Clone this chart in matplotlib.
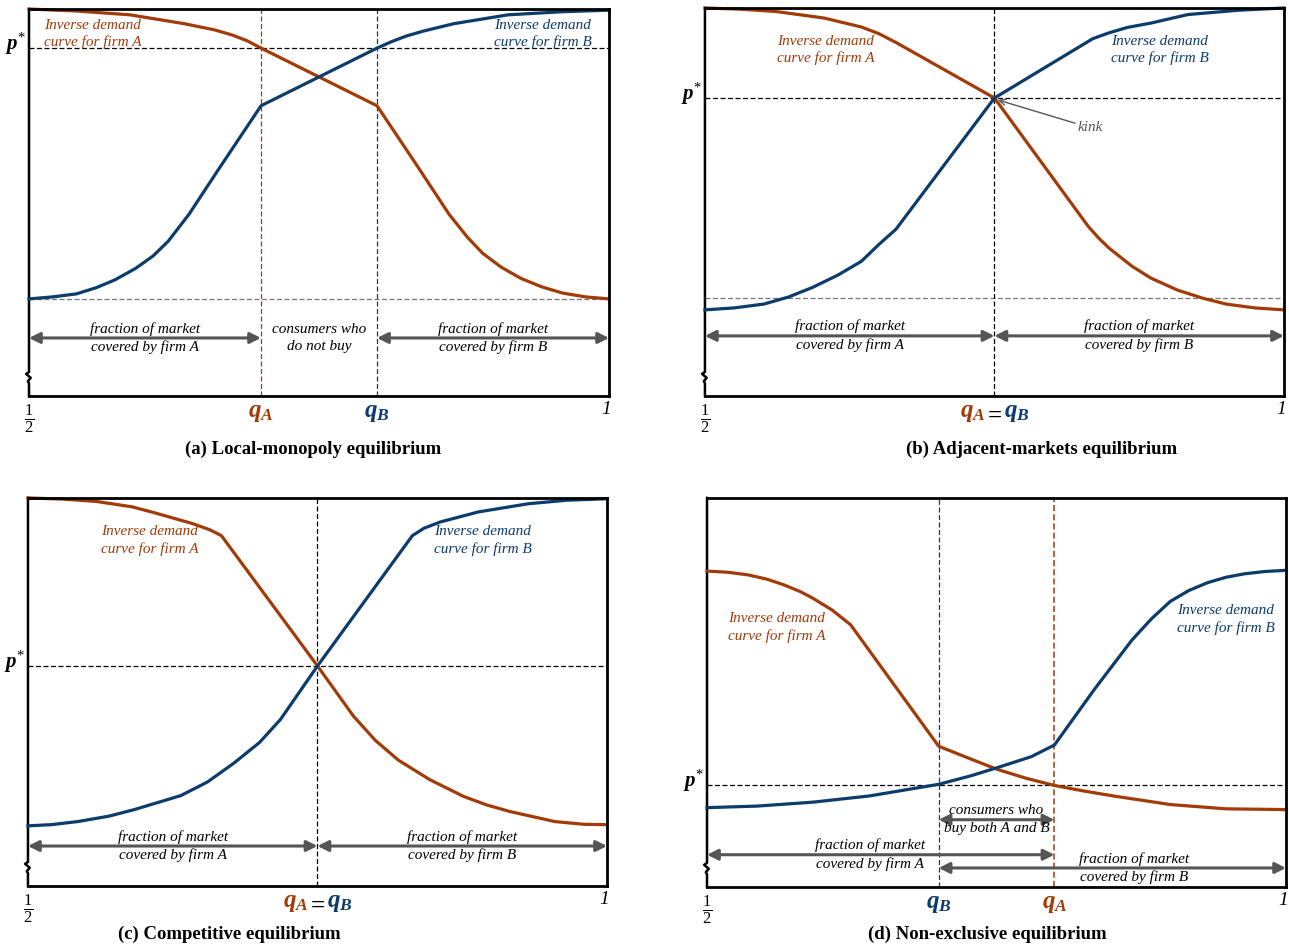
import matplotlib
matplotlib.use("Agg")
import matplotlib.pyplot as plt

ORANGE = '#a23b08'
BLUE = '#0c3c6c'
GREY = '#555555'
SERIF = 'Liberation Serif'

plt.rcParams['font.family'] = SERIF
plt.rcParams['mathtext.fontset'] = 'custom'
plt.rcParams['mathtext.rm'] = SERIF
plt.rcParams['mathtext.it'] = SERIF + ':italic'
plt.rcParams['mathtext.bf'] = SERIF + ':italic:bold'

# (a) local monopoly
a_x_A = [0.5, 0.540, 0.587, 0.634, 0.660, 0.675, 0.688, 0.700, 0.800, 0.835, 0.862, 0.878, 0.891,
         0.907, 0.924, 0.942, 0.960, 0.980, 1.0]
a_p_A = [1.0, 0.995, 0.985, 0.962, 0.946, 0.933, 0.918, 0.899, 0.750, 0.593, 0.470, 0.410, 0.369,
         0.333, 0.304, 0.282, 0.266, 0.256, 0.251]
a_x_B = [0.5, 0.520, 0.541, 0.558, 0.574, 0.592, 0.607, 0.620, 0.638, 0.663, 0.700, 0.800, 0.812,
         0.825, 0.840, 0.866, 0.913, 0.960, 1.0]
a_p_B = [0.251, 0.256, 0.264, 0.280, 0.300, 0.330, 0.362, 0.400, 0.470, 0.584, 0.750, 0.899, 0.915,
         0.930, 0.943, 0.962, 0.985, 0.993, 0.997]
a_pstar = 0.899
a_plow = 0.251
a_qA, a_qB = 0.70, 0.80

# (b) adjacent markets
b_x_A = [0.5, 0.530, 0.561, 0.603, 0.635, 0.650, 0.665, 0.75, 0.831, 0.840, 0.849, 0.869, 0.885,
         0.908, 0.930, 0.950, 0.975, 1.0]
b_p_A = [1.0, 0.997, 0.991, 0.974, 0.951, 0.934, 0.911, 0.768, 0.437, 0.407, 0.381, 0.334, 0.304,
         0.273, 0.252, 0.237, 0.227, 0.222]
b_x_B = [0.5, 0.525, 0.551, 0.572, 0.593, 0.615, 0.635, 0.650, 0.665, 0.75, 0.835, 0.849, 0.865,
         0.885, 0.917, 0.960, 1.0]
b_p_B = [0.222, 0.227, 0.237, 0.255, 0.280, 0.312, 0.347, 0.390, 0.430, 0.768, 0.921, 0.936, 0.950,
         0.961, 0.983, 0.994, 1.0]
b_pstar = 0.768
b_plow = 0.252
b_q = 0.75

# (c) competitive
c_x_A = [0.5, 0.530, 0.559, 0.590, 0.609, 0.642, 0.657, 0.667, 0.75, 0.781, 0.800, 0.820, 0.847,
         0.876, 0.896, 0.916, 0.955, 0.980, 1.0]
c_p_A = [1.0, 0.997, 0.991, 0.977, 0.962, 0.934, 0.918, 0.903, 0.567, 0.438, 0.375, 0.324, 0.274,
         0.231, 0.209, 0.192, 0.166, 0.159, 0.158]
c_x_B = [0.5, 0.520, 0.543, 0.570, 0.592, 0.632, 0.655, 0.678, 0.700, 0.718, 0.75, 0.832, 0.842,
         0.856, 0.889, 0.932, 0.965, 1.0]
c_p_B = [0.155, 0.158, 0.166, 0.180, 0.197, 0.233, 0.268, 0.317, 0.370, 0.429, 0.567, 0.903, 0.922,
         0.938, 0.964, 0.985, 0.994, 0.998]
c_pstar = 0.567
c_q = 0.75

# (d) non-exclusive
d_x_A = [0.5, 0.518, 0.536, 0.552, 0.566, 0.580, 0.591, 0.608, 0.624, 0.70, 0.721, 0.750, 0.775,
         0.80, 0.825, 0.851, 0.900, 0.948, 1.0]
d_p_A = [0.812, 0.809, 0.802, 0.791, 0.777, 0.760, 0.743, 0.712, 0.674, 0.362, 0.337, 0.303, 0.280,
         0.261, 0.247, 0.234, 0.212, 0.201, 0.199]
d_x_B = [0.5, 0.543, 0.591, 0.640, 0.70, 0.728, 0.754, 0.780, 0.80, 0.835, 0.867, 0.884, 0.900,
         0.916, 0.932, 0.948, 0.964, 0.982, 1.0]
d_p_B = [0.204, 0.208, 0.218, 0.234, 0.264, 0.286, 0.310, 0.335, 0.365, 0.510, 0.635, 0.690, 0.734,
         0.762, 0.782, 0.796, 0.805, 0.811, 0.814]
d_pstar = 0.263
d_qB, d_qA = 0.70, 0.80

titles = ['(a) Local-monopoly equilibrium', '(b) Adjacent-markets equilibrium',
          '(c) Competitive equilibrium', '(d) Non-exclusive equilibrium']
label_A = 'Inverse demand\ncurve for firm A'
label_B = 'Inverse demand\ncurve for firm B'
frac_A = 'fraction of market\ncovered by firm A'
frac_B = 'fraction of market\ncovered by firm B'


def setup(ax):
    ax.set_xlim(0.5, 1.0)
    ax.set_ylim(0, 1)
    ax.set_xticks([])
    ax.set_yticks([])
    for s in ax.spines.values():
        s.set_linewidth(2.0)
    ax.spines['left'].set_visible(False)
    # left border with axis-break squiggle
    ax.plot([0, 0, -0.005, 0.003, -0.002, 0, 0], [1, 0.062, 0.057, 0.047, 0.038, 0.033, 0],
            transform=ax.transAxes, color='black', lw=1.8, clip_on=False)
    ax.text(0.0, -0.018, r'$\frac{1}{2}$', transform=ax.transAxes, ha='center', va='top',
            fontsize=17)
    ax.text(0.995, -0.012, '1', transform=ax.transAxes, ha='center', va='top',
            fontsize=14, style='italic')


def pstar(ax, y):
    ax.text(-0.006, y + 0.01, r'$\mathbf{p}^{*}$', transform=ax.get_yaxis_transform(),
            ha='right', va='center', fontsize=15)


def hline(ax, y, color='black'):
    ax.axhline(y, color=color, lw=0.9, ls=(0, (4, 2)))


def vline(ax, x, color='black', lw=0.9):
    ax.axvline(x, color=color, lw=lw, ls=(0, (4, 2)))


def span(ax, x0, x1, y):
    ax.annotate('', xy=(x1, y), xytext=(x0, y),
                arrowprops=dict(arrowstyle='<|-|>', color=GREY, lw=2.2,
                                mutation_scale=16, shrinkA=0, shrinkB=0))


def span_text(ax, x, y, txt):
    ax.text(x, y, txt, ha='center', va='center', fontsize=11, style='italic',
            linespacing=1.45)


def curve_label(ax, x, y, txt, color):
    ax.text(x, y, txt, color=color, fontsize=11, style='italic', va='center',
            linespacing=1.35)


def curves(ax, xa, pa, xb, pb):
    ax.plot(xa, pa, color=ORANGE, lw=2.3, solid_joinstyle='round', clip_on=False)
    ax.plot(xb, pb, color=BLUE, lw=2.3, solid_joinstyle='round', clip_on=False)


def qlabel(ax, x, sub, color, ha='center'):
    ax.text(x, -0.015, r'$\mathbf{q_%s}$' % sub, transform=ax.get_xaxis_transform(),
            ha=ha, va='top', fontsize=18, color=color)


def qequal(ax, x):
    qlabel(ax, x - 0.008, 'A', ORANGE, ha='right')
    ax.text(x, -0.022, '=', transform=ax.get_xaxis_transform(), ha='center', va='top',
            fontsize=18, fontweight='bold')
    qlabel(ax, x + 0.008, 'B', BLUE, ha='left')


fig = plt.figure(figsize=(12.89, 9.49), dpi=100)
ax_a = fig.add_axes([0.0225, 0.5827, 0.4500, 0.4078])
ax_b = fig.add_axes([0.5469, 0.5827, 0.4492, 0.4089])
ax_c = fig.add_axes([0.0217, 0.0664, 0.4492, 0.4089])
ax_d = fig.add_axes([0.5485, 0.0653, 0.4492, 0.4100])

# (a)
ax = ax_a
setup(ax)
hline(ax, a_pstar)
hline(ax, a_plow, color='#777777')
vline(ax, a_qA, ORANGE, lw=0.9)
vline(ax, a_qB, BLUE, lw=0.9)
curves(ax, a_x_A, a_p_A, a_x_B, a_p_B)
pstar(ax, a_pstar)
curve_label(ax, 0.513, 0.935, label_A, ORANGE)
curve_label(ax, 0.901, 0.935, label_B, BLUE)
span(ax, 0.5, a_qA, 0.150)
span(ax, a_qB, 1.0, 0.150)
span_text(ax, 0.6, 0.150, frac_A)
span_text(ax, 0.9, 0.150, frac_B)
span_text(ax, 0.75, 0.150, 'consumers who\ndo not buy')
qlabel(ax, a_qA, 'A', ORANGE)
qlabel(ax, a_qB, 'B', BLUE)

# (b)
ax = ax_b
setup(ax)
hline(ax, b_pstar)
hline(ax, b_plow, color='#777777')
vline(ax, b_q)
curves(ax, b_x_A, b_p_A, b_x_B, b_p_B)
pstar(ax, b_pstar)
curve_label(ax, 0.562, 0.892, label_A, ORANGE)
curve_label(ax, 0.851, 0.892, label_B, BLUE)
ax.annotate('kink', xy=(0.753, 0.763), xytext=(0.822, 0.691), color=GREY,
            fontsize=11, style='italic', va='center', ha='left',
            arrowprops=dict(arrowstyle='->', color=GREY, lw=1.0, shrinkA=0, shrinkB=0))
span(ax, 0.5, b_q, 0.155)
span(ax, b_q, 1.0, 0.155)
span_text(ax, 0.625, 0.155, frac_A)
span_text(ax, 0.875, 0.155, frac_B)
qequal(ax, b_q)

# (c)
ax = ax_c
setup(ax)
hline(ax, c_pstar)
vline(ax, c_q)
curves(ax, c_x_A, c_p_A, c_x_B, c_p_B)
pstar(ax, c_pstar)
curve_label(ax, 0.563, 0.891, label_A, ORANGE)
curve_label(ax, 0.851, 0.891, label_B, BLUE)
span(ax, 0.5, c_q, 0.103)
span(ax, c_q, 1.0, 0.103)
span_text(ax, 0.625, 0.103, frac_A)
span_text(ax, 0.875, 0.103, frac_B)
qequal(ax, c_q)

# (d)
ax = ax_d
setup(ax)
hline(ax, d_pstar)
vline(ax, d_qB, BLUE, lw=0.9)
vline(ax, d_qA, ORANGE, lw=1.1)
curves(ax, d_x_A, d_p_A, d_x_B, d_p_B)
pstar(ax, d_pstar)
curve_label(ax, 0.518, 0.667, label_A, ORANGE)
curve_label(ax, 0.906, 0.687, label_B, BLUE)
span(ax, d_qB, d_qA, 0.173)
span(ax, 0.5, d_qA, 0.083)
span(ax, d_qB, 1.0, 0.049)
span_text(ax, 0.75, 0.173, 'consumers who\nbuy both A and B')
span_text(ax, 0.641, 0.083, frac_A)
span_text(ax, 0.869, 0.049, frac_B)
qlabel(ax, d_qB, 'B', BLUE)
qlabel(ax, d_qA, 'A', ORANGE)

title_pos = [(0.243, 0.527), (0.808, 0.527), (0.178, 0.015), (0.766, 0.015)]
for (tx, ty), t in zip(title_pos, titles):
    fig.text(tx, ty, t, ha='center', va='center', fontsize=13.5, fontweight='bold')

fig.savefig('out.png', dpi=100)
